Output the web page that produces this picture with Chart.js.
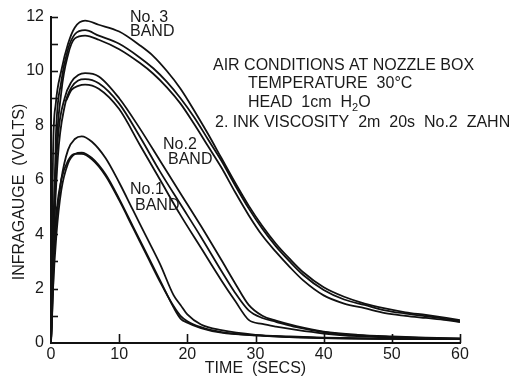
<!DOCTYPE html>
<html>
<head>
<meta charset="utf-8">
<script src="https://cdn.jsdelivr.net/npm/chart.js@4"></script>
<style>
  html, body { margin: 0; padding: 0; background: #ffffff; }
  #wrap { width: 521px; height: 378px; position: relative; }
</style>
</head>
<body>
<div id="wrap"><canvas id="c" width="521" height="378"></canvas></div>
<script>
// ---- Data ----
const xTicks = [0, 10, 20, 30, 40, 50, 60];
const yTickLabels = ['0', '2', '4', '6', '8', '10', '12'];

// No. 3 band
const band3Time = [0, 0.3, 0.7, 1.5, 2.5, 3.5, 5, 7, 10, 13, 15, 17, 19, 21, 23, 25, 27, 29, 31, 33, 35, 37, 40, 43, 46, 49, 52, 55, 58, 60];
const band3Top  = [0, 7.0, 8.8, 10.0, 11.0, 11.6, 11.85, 11.7, 11.45, 10.95, 10.55, 10.0, 9.35, 8.55, 7.7, 6.8, 5.9, 5.05, 4.3, 3.65, 3.1, 2.6, 2.05, 1.7, 1.45, 1.27, 1.13, 1.03, 0.92, 0.84];
const band3Mid  = [0, 3.0, 7.5, 9.6, 10.8, 11.35, 11.5, 11.3, 11.0, 10.5, 10.1, 9.6, 9.0, 8.3, 7.5, 6.7, 5.8, 4.95, 4.2, 3.55, 3.0, 2.5, 1.95, 1.6, 1.4, 1.2, 1.08, 0.98, 0.88, 0.80];
const band3Low  = [0, 2.0, 6.5, 9.2, 10.6, 11.2, 11.3, 11.15, 10.8, 10.3, 9.9, 9.4, 8.8, 8.05, 7.25, 6.45, 5.55, 4.7, 3.95, 3.35, 2.8, 2.3, 1.75, 1.45, 1.28, 1.1, 1.0, 0.92, 0.84, 0.77];

// No. 2 band
const band2Time = [0, 0.3, 1, 2, 3, 4, 5, 7, 10, 13, 16, 19, 22, 25, 27, 29, 31, 33, 36, 40, 45, 50, 55, 60];
const band2Top  = [0, 4.0, 7.5, 9.0, 9.6, 9.85, 9.92, 9.8, 9.0, 7.9, 6.7, 5.5, 4.3, 3.05, 2.2, 1.4, 1.0, 0.82, 0.62, 0.42, 0.30, 0.24, 0.20, 0.17];
const band2Mid  = [0, 3.0, 6.8, 8.7, 9.4, 9.65, 9.7, 9.55, 8.8, 7.6, 6.3, 5.1, 3.9, 2.65, 1.85, 1.2, 0.92, 0.78, 0.58, 0.40, 0.28, 0.22, 0.18, 0.15];
const band2LowTime = [2.2, 3, 4, 5, 7, 10, 13, 16, 19, 22, 25, 27, 29, 31, 33, 36, 40, 45, 50, 55, 60];
const band2Low  = [8.9, 9.3, 9.45, 9.5, 9.35, 8.6, 7.3, 6.0, 4.7, 3.5, 2.3, 1.55, 0.85, 0.7, 0.6, 0.48, 0.35, 0.25, 0.20, 0.17, 0.14];

// No. 1 band
const band1Time = [0, 0.3, 0.8, 1.5, 2.5, 3.5, 4.5, 6, 8, 10, 12, 14, 16, 18, 19, 20, 22, 25, 30, 35, 40, 45, 50, 55, 60];
const band1Top  = [0, 2.5, 4.5, 6.0, 7.1, 7.5, 7.6, 7.4, 6.8, 5.9, 4.9, 3.9, 2.9, 1.75, 1.4, 1.05, 0.68, 0.47, 0.30, 0.24, 0.20, 0.18, 0.17, 0.16, 0.16];
const band1Mid  = [0, 2.0, 4.0, 5.6, 6.6, 6.95, 7.0, 6.8, 6.2, 5.3, 4.3, 3.3, 2.3, 1.3, 0.9, 0.75, 0.55, 0.38, 0.28, 0.22, 0.18, 0.16, 0.15, 0.14, 0.14];
const band1Low  = [0, 3.0, 4.8, 6.0, 6.7, 6.95, 6.95, 6.75, 6.15, 5.25, 4.25, 3.25, 2.25, 1.35, 1.0, 0.8, 0.58, 0.40, 0.28, 0.22, 0.18, 0.16, 0.15, 0.14, 0.14];

const bandLabels = [
  { lines: ['No. 3', 'BAND'] },
  { lines: ['No.2', 'BAND'] },
  { lines: ['No.1', 'BAND'] }
];
const noteLines = ['AIR CONDITIONS AT NOZZLE BOX', 'TEMPERATURE  30°C', 'HEAD  1cm  H', '2. INK VISCOSITY  2m  20s  No.2  ZAHN'];
const xTitle = 'TIME  (SECS)';
const yTitle = 'INFRAGAUGE  (VOLTS)';

// ---- Build datasets ----
function series(times, vals) { return times.map((t, i) => ({ x: t, y: vals[i] })); }
const curves = [
  series(band3Time, band3Top), series(band3Time, band3Mid), series(band3Time, band3Low),
  series(band2Time, band2Top), series(band2Time, band2Mid), series(band2LowTime, band2Low),
  series(band1Time, band1Top), series(band1Time, band1Mid), series(band1Time, band1Low)
];
const INK = '#111111';
const FONT = '"Liberation Sans", Arial, sans-serif';

const datasets = curves.map(d => ({
  data: d,
  borderColor: INK,
  borderWidth: 1.8,
  pointRadius: 0,
  fill: false,
  cubicInterpolationMode: 'monotone'
}));

// inward ticks and annotation texts
const decor = {
  id: 'decor',
  afterDraw(chart) {
    const ctx = chart.ctx;
    const xs = chart.scales.x, ys = chart.scales.y;
    const ca = chart.chartArea;
    ctx.save();
    ctx.strokeStyle = INK;
    ctx.lineWidth = 1.6;
    // x inward ticks
    xTicks.forEach(v => {
      if (v === 0) return;
      const px = Math.round(xs.getPixelForValue(v)) + 0.5;
      ctx.beginPath(); ctx.moveTo(px, ca.bottom); ctx.lineTo(px, ca.bottom - 9); ctx.stroke();
    });
    // y inward ticks every unit
    for (let v = 1; v <= 12; v++) {
      const py = Math.round(ys.getPixelForValue(v)) + 0.5;
      ctx.beginPath(); ctx.moveTo(ca.left, py); ctx.lineTo(ca.left + 7, py); ctx.stroke();
    }
    // texts
    ctx.fillStyle = '#1a1a1a';
    ctx.font = '16px ' + FONT;
    ctx.textAlign = 'left';
    ctx.textBaseline = 'alphabetic';
    // band labels
    const bandPos = [[130, 22, 130, 36], [163, 149, 168, 164], [130, 194, 135, 210]];
    bandLabels.forEach((b, i) => {
      const p = bandPos[i];
      ctx.fillText(b.lines[0], p[0], p[1]);
      ctx.fillText(b.lines[1], p[2], p[3]);
    });
    // note block
    ctx.fillText(noteLines[0], 213, 70);
    ctx.fillText(noteLines[1], 248, 88);
    ctx.fillText(noteLines[2], 248, 107);
    let w = ctx.measureText(noteLines[2]).width;
    ctx.font = '11px ' + FONT;
    ctx.fillText('2', 248 + w, 111);
    const w2 = ctx.measureText('2').width;
    ctx.font = '16px ' + FONT;
    ctx.fillText('O', 248 + w + w2, 107);
    ctx.fillText(noteLines[3], 215, 127);
    // y title
    ctx.translate(20, 192);
    ctx.rotate(-Math.PI / 2);
    ctx.textAlign = 'center';
    ctx.textBaseline = 'middle';
    ctx.fillText(yTitle, 0, 0);
    ctx.restore();
  }
};

new Chart(document.getElementById('c'), {
  type: 'line',
  data: { datasets },
  plugins: [decor],
  options: {
    responsive: false,
    animation: false,
    events: [],
    layout: { padding: { left: 0, right: 61, top: 15, bottom: 0 } },
    plugins: { legend: { display: false }, tooltip: { enabled: false }, title: { display: false } },
    scales: {
      x: {
        type: 'linear', min: 0, max: 60,
        afterFit(s) { s.height = 35; },
        afterBuildTicks(s) { s.ticks = xTicks.map(v => ({ value: v })); },
        grid: { display: false, drawTicks: false },
        border: { display: true, color: INK, width: 2 },
        ticks: { color: '#1a1a1a', font: { family: FONT, size: 16 }, padding: 2, maxRotation: 0 },
        title: { display: true, text: xTitle, color: '#1a1a1a', font: { family: FONT, size: 16 }, padding: { top: 0, bottom: 0 } }
      },
      y: {
        type: 'linear', min: 0, max: 12,
        afterFit(s) { s.width = 51; },
        ticks: {
          stepSize: 2,
          color: '#1a1a1a', font: { family: FONT, size: 16 }, padding: 7,
          callback: (v) => yTickLabels[v / 2]
        },
        grid: { display: false, drawTicks: false },
        border: { display: true, color: INK, width: 2 }
      }
    }
  }
});
</script>
</body>
</html>
